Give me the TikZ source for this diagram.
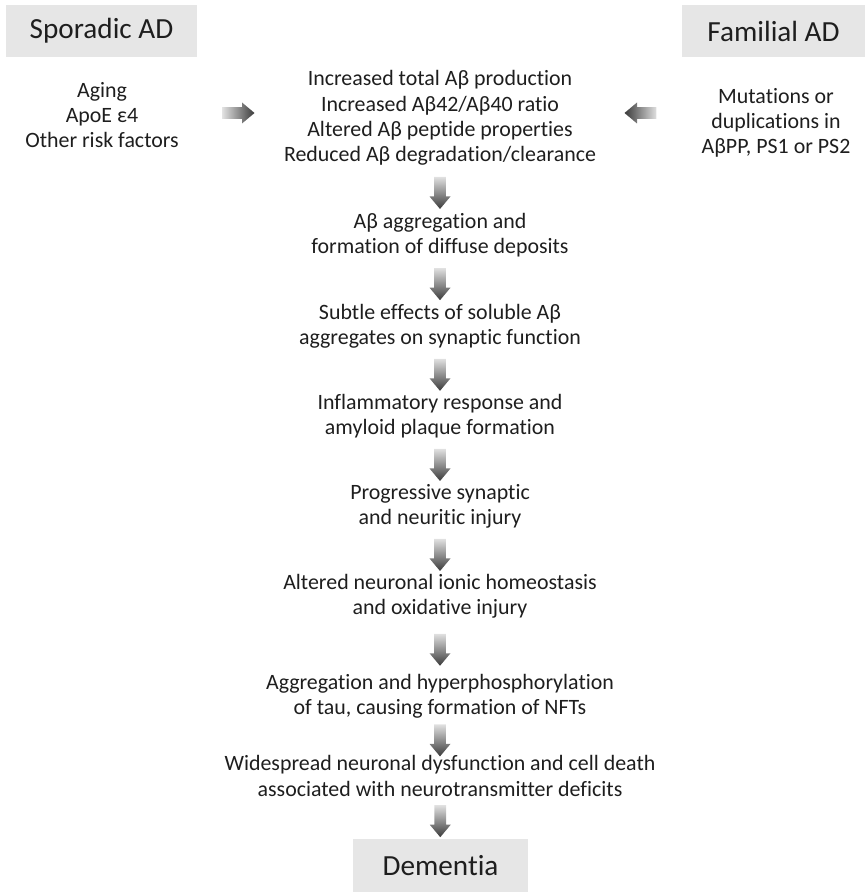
\documentclass[tikz,border=0pt]{standalone}
\usepackage{fontspec}
\setmainfont{Carlito}[Ligatures=NoCommon]
\usepackage{tikz}
\usetikzlibrary{shapes.arrows,calc}
\definecolor{boxgray}{HTML}{E6E6E6}
\definecolor{inkgray}{HTML}{1E1E1E}
\definecolor{arrowdark}{HTML}{3A3A3A}
\definecolor{arrowlight}{HTML}{E0E0E0}
\tikzset{stage/.style={align=center,text=inkgray,inner sep=0pt,
  font=\fontsize{10.95}{12.65}\selectfont},
  header/.style={fill=boxgray,text=inkgray,minimum height=26pt,inner sep=0pt,
  font=\fontsize{14.6}{17}\selectfont},
  blockarrow/.style={single arrow,draw=none,inner sep=2.75pt,minimum height=16pt,
  minimum width=10pt,single arrow head extend=2.3pt,single arrow tip angle=80},
  downarrow/.style={blockarrow,shape border rotate=270,top color=arrowlight,
  bottom color=arrowdark},
  rightarrow/.style={blockarrow,left color=arrowlight,right color=arrowdark},
  leftarrow/.style={blockarrow,shape border rotate=180,left color=arrowdark,
  right color=arrowlight}}

\begin{document}
\begin{tikzpicture}[x=0.5pt,y=-0.5pt]
 \useasboundingbox (0,0) rectangle (865,892);
 \node[header,minimum width=95.5pt] (spor) at (101.5,31) {Sporadic AD};
 \node[header,minimum width=91.5pt] (fam) at (773.5,31) {Familial AD};
 \node[stage] (risk) at (102,115) {Aging\\ApoE ε4\\Other risk factors};
 \node[stage] (mut) at (776,123) {Mutations or\\duplications in\\AβPP, PS1 or PS2};
 \node[stage] (prod) at (440,118) {Increased total Aβ production\\Increased Aβ42/Aβ40 ratio\\
  Altered Aβ peptide properties\\Reduced Aβ degradation/clearance};
 \node[stage] (aggr) at (440,235.5) {Aβ aggregation and\\formation of diffuse deposits};
 \node[stage] (syn) at (440,326) {Subtle effects of soluble Aβ\\aggregates on synaptic function};
 \node[stage] (infl) at (440,416.5) {Inflammatory response and\\amyloid plaque formation};
 \node[stage] (inj) at (440,506.5) {Progressive synaptic\\and neuritic injury};
 \node[stage] (ion) at (440,596.5) {Altered neuronal ionic homeostasis\\and oxidative injury};
 \node[stage] (tau) at (440,696) {Aggregation and hyperphosphorylation\\of tau, causing formation of NFTs};
 \node[stage] (death) at (440,776) {Widespread neuronal dysfunction and cell death\\
  associated with neurotransmitter deficits};
 \node[header,minimum width=87.5pt,minimum height=26.5pt] (dem) at (440.5,865.5) {Dementia};
 \node[rightarrow] (arrL) at (235,113) {};
 \node[leftarrow] (arrR) at (644,113) {};
 \node[downarrow] (s1) at ($(prod.south)!0.5!(aggr.north)$) {};
 \node[downarrow] (s2) at ($(aggr.south)!0.5!(syn.north)$) {};
 \node[downarrow] (s3) at ($(syn.south)!0.5!(infl.north)$) {};
 \node[downarrow] (s4) at ($(infl.south)!0.5!(inj.north)$) {};
 \node[downarrow] (s5) at ($(inj.south)!0.5!(ion.north)$) {};
 \node[downarrow] (s6) at ($(ion.south)!0.5!(tau.north)$) {};
 \node[downarrow] (s7) at ($(tau.south)!0.5!(death.north)$) {};
 \node[downarrow] (s8) at ($(death.south)!0.5!(dem.north)$) {};
\end{tikzpicture}
\end{document}
